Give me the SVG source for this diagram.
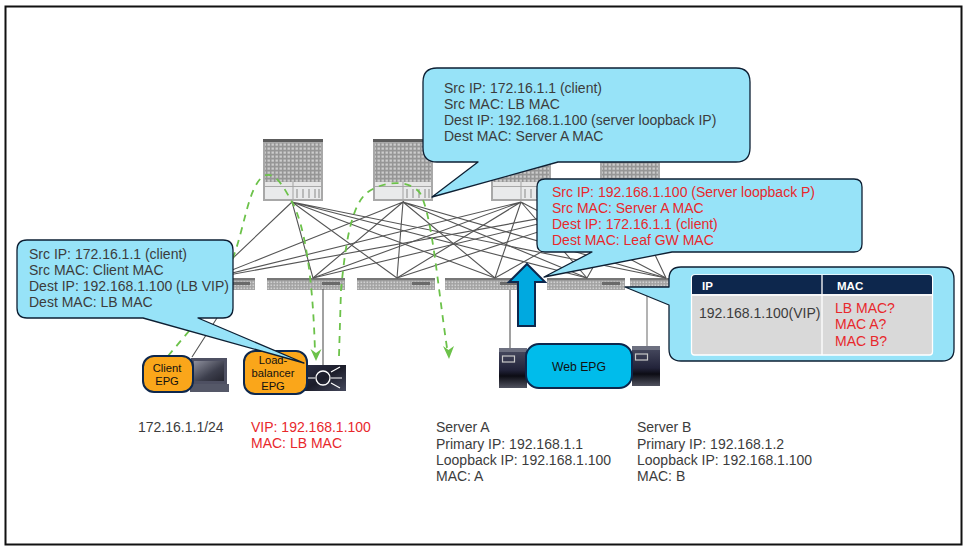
<svg xmlns="http://www.w3.org/2000/svg" width="968" height="552" viewBox="0 0 968 552">
<style>
text{font-family:"Liberation Sans",Arial,sans-serif;font-size:14px;fill:#3c3c3c}
.red{fill:#e8282c}
.blk{fill:#111;font-size:11.2px;text-anchor:middle}
.wht{fill:#fff;font-size:11.5px;font-weight:bold}
.call{fill:#97e3f8;stroke:#0d1f33;stroke-width:1.3;stroke-linejoin:round}
.epg{fill:#faa61a;stroke:#0d274d;stroke-width:2}
.web{fill:#00bceb;stroke:#0d274d;stroke-width:2}
.link{stroke:#555;stroke-width:1.1;fill:none}
.flow{stroke:#6cc24a;stroke-width:1.8;stroke-dasharray:7 6;fill:none}
.head{fill:#6cc24a}
.ar{stroke:#fff;stroke-width:1.2;fill:none}
</style>
<defs>
<pattern id="sp" width="4" height="4" patternUnits="userSpaceOnUse"><rect width="4" height="4" fill="#969696"/><rect x="0.5" y="0.5" width="2.4" height="2.2" fill="#cdcdcd"/></pattern>
<pattern id="lf" width="3" height="3" patternUnits="userSpaceOnUse"><rect width="3" height="3" fill="#a2a2a2"/><rect x="0.5" y="0.5" width="1.6" height="1.6" fill="#d0d0d0"/></pattern>
<linearGradient id="dk" x1="0" y1="0" x2="1" y2="1"><stop offset="0" stop-color="#2c2f45"/><stop offset="0.5" stop-color="#1c1d2a"/><stop offset="1" stop-color="#45485c"/></linearGradient>
<linearGradient id="scr" x1="0" y1="0" x2="1" y2="1"><stop offset="0" stop-color="#8d8f9c"/><stop offset="0.6" stop-color="#3c3e4c"/><stop offset="1" stop-color="#24252f"/></linearGradient>
<linearGradient id="sv" x1="0" y1="0" x2="0" y2="1"><stop offset="0" stop-color="#4a4d62"/><stop offset="0.55" stop-color="#22233a"/><stop offset="0.7" stop-color="#0c0c14"/><stop offset="1" stop-color="#50525f"/></linearGradient>
<g id="spine">
<rect x="0" y="0" width="60" height="62" fill="#a8a8a8"/>
<rect x="0" y="0" width="60" height="3" fill="#5c5c5c"/>
<rect x="2" y="4" width="56" height="39" fill="url(#sp)"/>
<rect x="2" y="43" width="56" height="4" fill="#e6e6e6"/>
<rect x="2" y="48" width="56" height="12" fill="#e9eaeb"/>
<path d="M30 43V60" stroke="#a3a3a3" stroke-width="1"/>
<path d="M34 50V59M40 50V59M46 50V59M52 50V59M56 50V59" stroke="#9a9a9a" stroke-width="1.2"/>
</g>
<g id="leaf">
<rect x="0" y="0" width="78" height="12" fill="url(#lf)"/>
<rect x="0" y="0" width="78" height="2.2" fill="#777"/>
<rect x="55" y="4" width="18" height="3" fill="#6a6a6a"/>
</g>
<g id="server">
<rect x="0" y="0" width="28" height="40" fill="url(#sv)"/>
<rect x="0" y="0" width="28" height="4" fill="#6d7080"/>
<rect x="3.500" y="8" width="12" height="6" fill="none" stroke="#c8c8c8" stroke-width="1.2"/>
</g>
</defs>
<rect x="5.500" y="6.500" width="956" height="538" fill="#fff" stroke="#111" stroke-width="2"/>
<g id="spine-1"><use href="#spine" x="263" y="139"/></g>
<g id="spine-2"><use href="#spine" x="373" y="139"/></g>
<g id="spine-3"><use href="#spine" x="491" y="139"/></g>
<g id="spine-4"><use href="#spine" x="600" y="139"/></g>
<g id="leaf-1"><use href="#leaf" x="177" y="278"/></g>
<g id="leaf-2"><use href="#leaf" x="267" y="278"/></g>
<g id="leaf-3"><use href="#leaf" x="357" y="278"/></g>
<g id="leaf-4"><use href="#leaf" x="445" y="278"/></g>
<g id="leaf-5"><use href="#leaf" x="547" y="278"/></g>
<g id="leaf-6"><use href="#leaf" x="630" y="278"/></g>
<g id="connectors">
<path class="link" d="M292 202L212 278M292 202L313 278M292 202L397 278M292 202L495 278M292 202L587 278M292 202L666 278"/>
<path class="link" d="M403 202L212 278M403 202L313 278M403 202L397 278M403 202L495 278M403 202L587 278M403 202L666 278"/>
<path class="link" d="M521 202L212 278M521 202L313 278M521 202L397 278M521 202L495 278M521 202L587 278M521 202L666 278"/>
<path class="link" d="M630 202L212 278M630 202L313 278M630 202L397 278M630 202L495 278M630 202L587 278M630 202L666 278"/>
<path class="link" d="M217 318L192 357M323 289V365M510 290V348"/>
<path class="link" d="M647 290V346" style="stroke:#9a9a9a;stroke-width:1.5"/>
<path class="flow" d="M168 356L200 318L233 258C245 225 248 190 262 177C275 168 285 190 292 202C305 225 313 280 315 352"/>
<path class="head" d="M310.500 349L316 361L321.500 349L316 353Z"/>
<path class="flow" d="M339 356L341 290C345 250 350 205 368 192C385 180 410 180 420 193C432 215 437 280 447 348"/>
<path class="head" d="M443 346L449 359L454 346L448.500 350Z"/>
</g>
<g id="client"><rect x="191" y="358" width="36" height="26" fill="#4e5062"/><rect x="194" y="361" width="30" height="20" fill="url(#scr)"/><path d="M190 384H229L229 392H190Z" fill="#555868"/><rect x="143" y="356" width="50" height="36" rx="11" class="epg"/><text class="blk" x="167" y="372">Client</text><text class="blk" x="167" y="385">EPG</text></g>
<g id="load-balancer"><rect x="303" y="365" width="43" height="26" fill="url(#dk)"/><circle cx="323" cy="378" r="7" fill="none" stroke="#fff" stroke-width="1.300"/><path class="ar" d="M306 378H315M331 372L340 367M331 378H342M331 383L340 388"/><rect x="244" y="351" width="63" height="43" rx="11" class="epg"/><text class="blk" x="273" y="364">Load-</text><text class="blk" x="273" y="377">balancer</text><text class="blk" x="273" y="390">EPG</text></g>
<g id="web-epg"><use href="#server" x="499" y="348"/><use href="#server" x="632" y="346"/><rect x="526" y="344" width="106" height="44" rx="13" class="web"/><text class="blk" style="font-size:12.2px" x="579" y="371">Web EPG</text></g>
<g id="up-arrow"><path d="M527 264L545 282H535V326H518V282H509Z" fill="#00a9e0" stroke="#0d274d" stroke-width="2"/></g>
<g id="callout-client"><path class="call" d="M29 240H223Q233 240 233 250V308Q233 318 223 318H198L304 363L143 318H27Q17 318 17 308V250Q17 240 27 240Z"/>
<text x="29" y="259">Src IP: 172.16.1.1 (client)</text><text x="29" y="275">Src MAC: Client MAC</text><text x="29" y="291">Dest IP: 192.168.1.100 (LB VIP)</text><text x="29" y="307">Dest MAC: LB MAC</text></g>
<g id="callout-top"><path class="call" d="M437 68H736Q750 68 750 82V148Q750 162 736 162H558L432 197L478 162H437Q423 162 423 148V82Q423 68 437 68Z"/>
<text x="444" y="93">Src IP: 172.16.1.1 (client)</text><text x="444" y="109">Src MAC: LB MAC</text><text x="444" y="125">Dest IP: 192.168.1.100 (server loopback IP)</text><text x="444" y="141">Dest MAC: Server A MAC</text></g>
<g id="callout-return"><path class="call" d="M545 179H854Q862 179 862 187V244Q862 252 854 252H672L544 277L592 252H545Q537 252 537 244V187Q537 179 545 179Z"/>
<text class="red" x="552" y="197">Src IP: 192.168.1.100 (Server loopback P)</text><text class="red" x="552" y="213">Src MAC: Server A MAC</text><text class="red" x="552" y="229">Dest IP: 172.16.1.1 (client)</text><text class="red" x="552" y="245">Dest MAC: Leaf GW MAC</text></g>
<g id="arp-table"><path class="call" d="M681 267H942Q954 267 954 279V349Q954 361 942 361H681Q669 361 669 349V305L625 287L669 287V279Q669 267 681 267Z"/>
<rect x="691.500" y="275" width="241" height="80" rx="3" fill="#d9d9d9" stroke="#fff" stroke-width="1.300"/>
<path d="M692 278Q692 275 695 275H929Q932 275 932 278V294H692Z" fill="#0d274d"/>
<path d="M692 295H932M822 275V355" stroke="#fff" stroke-width="1.300"/>
<text class="wht" x="702" y="290">IP</text><text class="wht" x="837" y="290">MAC</text>
<text x="699" y="318">192.168.1.100(VIP)</text>
<text class="red" x="835" y="313">LB MAC?</text><text class="red" x="835" y="329">MAC A?</text><text class="red" x="835" y="346">MAC B?</text></g>
<g id="labels">
<text x="138" y="432">172.16.1.1/24</text>
<text class="red" x="251" y="432">VIP: 192.168.1.100</text><text class="red" x="251" y="448">MAC: LB MAC</text>
<text x="436" y="432">Server A</text><text x="436" y="449">Primary IP: 192.168.1.1</text><text x="436" y="465">Loopback IP: 192.168.1.100</text><text x="436" y="481">MAC: A</text>
<text x="637" y="432">Server B</text><text x="637" y="449">Primary IP: 192.168.1.2</text><text x="637" y="465">Loopback IP: 192.168.1.100</text><text x="637" y="481">MAC: B</text>
</g>
</svg>
